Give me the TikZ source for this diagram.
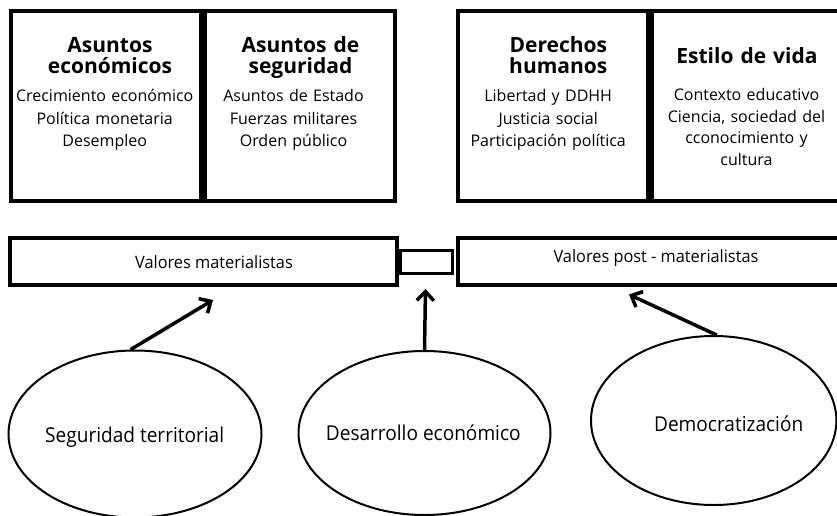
\documentclass[tikz,border=0pt]{standalone}
\usepackage{fontspec}
\setmainfont{Open Sans}
\newfontfamily\barfont[FakeStretch=0.96]{Open Sans}
\newfontfamily\ellfont[FakeStretch=0.93]{Open Sans}
\usetikzlibrary{arrows.meta,shapes.geometric}
\begin{document}
\begin{tikzpicture}[x=1pt,y=-1pt,
  topbox/.style={draw,line width=4pt,inner sep=0pt,minimum width=190pt,minimum height=190pt},
  barbox/.style={draw,line width=4pt,inner sep=0pt},
  oval/.style={draw,ellipse,line width=2pt,inner sep=0pt},
  head/.style={font=\bfseries\fontsize{21}{21}\selectfont,text width=200pt,align=center,inner sep=0pt,anchor=base},
  body/.style={font=\fontsize{16}{22.5}\selectfont,text width=200pt,align=center,inner sep=0pt,anchor=base},
  bartext/.style={font=\barfont\fontsize{17}{20}\selectfont,inner sep=0pt,anchor=base},
  elltext/.style={font=\ellfont\fontsize{20.5}{24}\selectfont,inner sep=0pt,anchor=base},
  arr/.style={line width=3.5pt,-{Straight Barb[length=9pt,width=17pt]}}]
\useasboundingbox (0,0) rectangle (837,516);
% top boxes
\node[topbox] (b1) at (105.5,106.3) {};
\node[topbox,minimum width=190.5pt] (b2) at (299.75,106.3) {};
\node[topbox] (b3) at (553,106.3) {};
\node[topbox] (b4) at (746.7,106.3) {};
\node[head] (h1) at (110,53) {Asuntos\\económicos};
\node[body] (t1) at (104.7,101.7) {Crecimiento económico\\Política monetaria\\Desempleo};
\node[head] (h2) at (300.5,53) {Asuntos de\\seguridad};
\node[body] (t2) at (293.5,101.7) {Asuntos de Estado\\Fuerzas militares\\Orden público};
\node[head] (h3) at (558.3,53) {Derechos\\humanos};
\node[body] (t3) at (548.2,101.7) {Libertad y DDHH\\Justicia social\\Participación política};
\node[head] (h4) at (747,63.3) {Estilo de vida};
\node[body,font=\fontsize{16}{21.5}\selectfont] (t4) at (746.5,101) {Contexto educativo\\Ciencia, sociedad del\\cconocimiento y\\cultura};
% bars
\node[barbox,minimum width=386.4pt,minimum height=47.3pt] (vm) at (203.5,261.7) {};
\node[barbox,line width=3.5pt,minimum width=52.3pt,minimum height=23pt] (mid) at (426.2,261.8) {};
\node[barbox,minimum width=392.5pt,minimum height=47pt] (vp) at (653.75,261.5) {};
\node[bartext] (vmt) at (214,268.3) {Valores materialistas};
\node[bartext] (vpt) at (656,262.3) {Valores post - materialistas};
% ellipses
\node[oval,minimum width=253pt,minimum height=167pt] (e1) at (135,434) {};
\node[oval,minimum width=252pt,minimum height=164pt] (e2) at (424.5,433) {};
\node[oval,minimum width=245.4pt,minimum height=169pt] (e3) at (713.7,420.5) {};
\node[elltext] (e1t) at (134.7,442.7) {Seguridad territorial};
\node[elltext] (e2t) at (423.3,440) {Desarrollo económico};
\node[elltext] (e3t) at (728.7,431) {Democratización};
% arrows
\coordinate (p1) at (213,300);
\coordinate (p2) at (425.5,289);
\coordinate (p3) at (629,294.5);
\draw[arr] (e1.93.5) -- (p1);
\draw[arr] (e2.north) -- (p2);
\draw[arr] (e3.88) -- (p3);
\end{tikzpicture}
\end{document}
